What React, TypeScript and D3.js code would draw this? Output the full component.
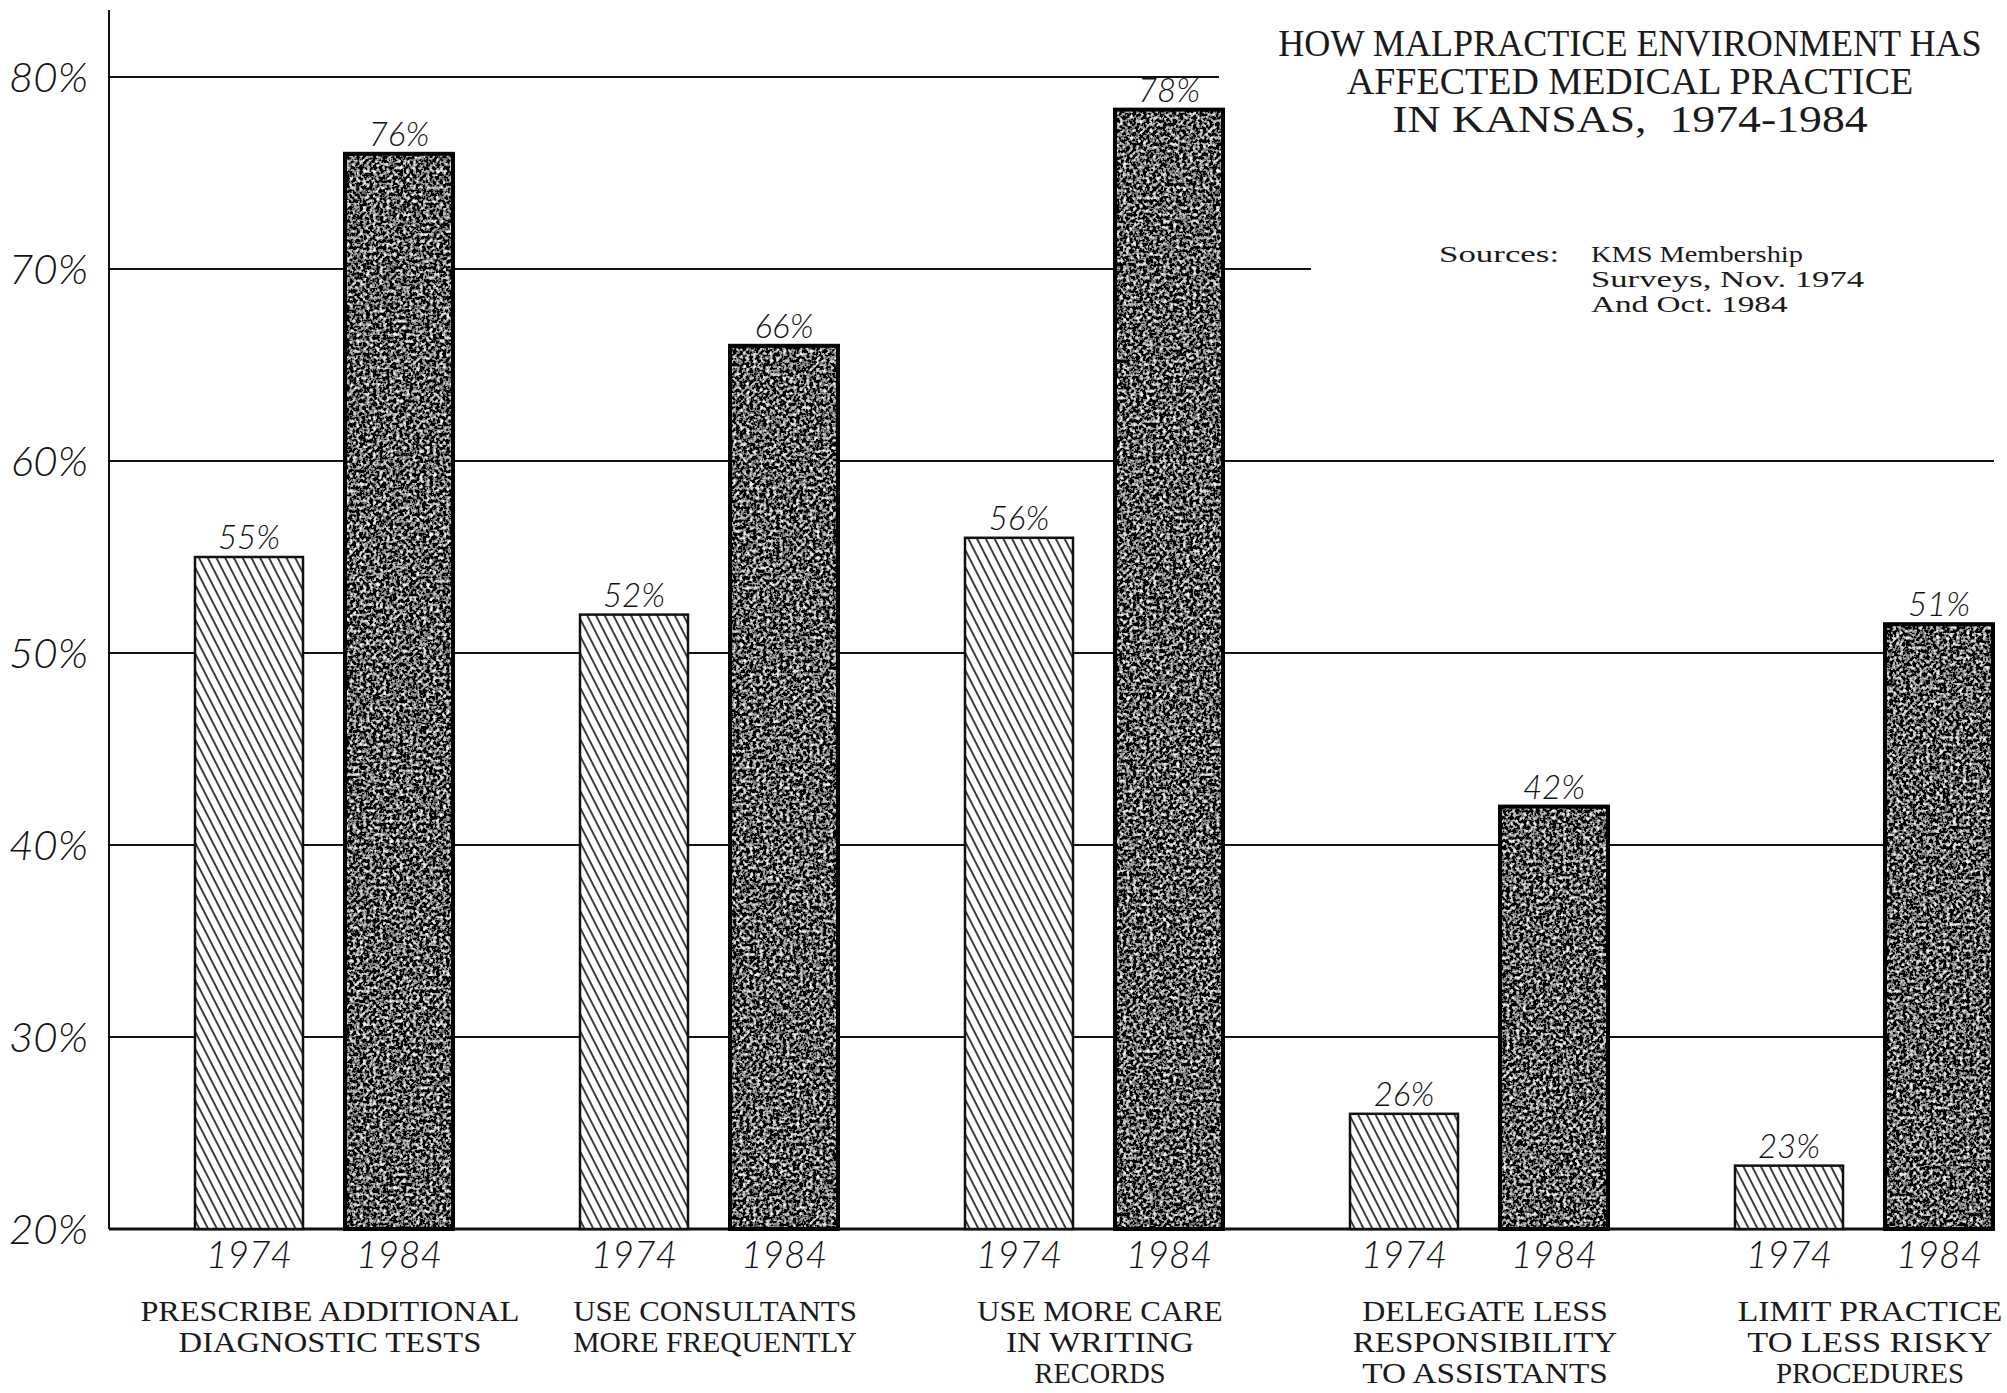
import React from "react";
import * as d3 from "d3";

const categories = ["diag", "consult", "records", "delegate", "limit"];
const categoryLines = [
  ["PRESCRIBE ADDITIONAL", "DIAGNOSTIC TESTS"],
  ["USE CONSULTANTS", "MORE FREQUENTLY"],
  ["USE MORE CARE", "IN WRITING", "RECORDS"],
  ["DELEGATE LESS", "RESPONSIBILITY", "TO ASSISTANTS"],
  ["LIMIT PRACTICE", "TO LESS RISKY", "PROCEDURES"],
];
const years = ["1974", "1984"];
const values1974 = [55, 52, 56, 26, 23.3];
const values1984 = [76, 66, 78.3, 42, 51.5];
const labels1974 = ["55%", "52%", "56%", "26%", "23%"];
const labels1984 = ["76%", "66%", "78%", "42%", "51%"];
const yTicks = [20, 30, 40, 50, 60, 70, 80];
const titleLines = [
  "HOW MALPRACTICE ENVIRONMENT HAS",
  "AFFECTED MEDICAL PRACTICE",
  "IN KANSAS,  1974-1984",
];
const sourceLines = ["KMS Membership", "Surveys, Nov. 1974", "And Oct. 1984"];

const W = 2007;
const H = 1393;
const hand = "Lato, 'Open Sans', 'DejaVu Sans', sans-serif";
const typeFont = "'Liberation Serif', 'DejaVu Serif', serif";

// fixed-pitch "typewriter" text: width set from the character count
function TypeText(props: {
  x: number;
  y: number;
  text: string;
  cw: number;
  size: number;
  anchor?: "start" | "middle";
}) {
  const { x, y, text, cw, size, anchor = "middle" } = props;
  const n = Array.from(text).length;
  return (
    <text
      x={x}
      y={y}
      textAnchor={anchor}
      textLength={n * cw - cw * 0.15}
      lengthAdjust="spacingAndGlyphs"
      fontFamily={typeFont}
      fontSize={size}
      fill="#1a1a1a"
      style={{ whiteSpace: "pre" }}
    >
      {text}
    </text>
  );
}

export default function App() {
  const y = d3.scaleLinear().domain([20, 80]).range([1229, 77]);
  const x = d3.scalePoint<string>().domain(categories).range([324, 1864]);
  const xs = d3.scaleBand<string>().domain(years).range([-129, 129]).paddingInner(0.28);
  const axisX = 109;
  const gridEnd = (t: number) => (t === 80 ? 1219 : t === 70 ? 1311 : 1994);

  const series = [
    { year: "1974", vals: values1974, labels: labels1974 },
    { year: "1984", vals: values1984, labels: labels1984 },
  ];

  return (
    <svg
      width={W}
      height={H}
      viewBox={`0 0 ${W} ${H}`}
      style={{ position: "absolute", left: 0, top: 0, background: "#fff" }}
    >
      <defs>
        <pattern
          id="hatch"
          patternUnits="userSpaceOnUse"
          width={7.8}
          height={40}
          patternTransform="rotate(-27)"
        >
          <rect width={7.8} height={40} fill="#fff" />
          <line x1={2} y1={-5} x2={2} y2={45} stroke="#111" strokeWidth={1.6} />
        </pattern>
        <filter id="noise" x="0" y="0" width="1" height="1" filterUnits="objectBoundingBox">
          <feTurbulence type="fractalNoise" baseFrequency="0.3" numOctaves={2} seed={7} result="t" />
          <feColorMatrix
            in="t"
            type="matrix"
            values="0.33 0.33 0.33 0 0  0.33 0.33 0.33 0 0  0.33 0.33 0.33 0 0  0 0 0 0 1"
          />
          <feComponentTransfer>
            <feFuncR type="linear" slope="5" intercept="-2.35" />
            <feFuncG type="linear" slope="5" intercept="-2.35" />
            <feFuncB type="linear" slope="5" intercept="-2.35" />
          </feComponentTransfer>
          <feComposite in2="SourceGraphic" operator="in" />
        </filter>
      </defs>

      {/* gridlines */}
      {yTicks.map((t) => (
        <line
          key={t}
          x1={axisX}
          x2={gridEnd(t)}
          y1={y(t)}
          y2={y(t)}
          stroke="#111"
          strokeWidth={t === 20 ? 3 : 2}
        />
      ))}
      {/* y axis */}
      <line x1={axisX} x2={axisX} y1={10} y2={y(20)} stroke="#111" strokeWidth={2} />

      {/* y tick labels */}
      {yTicks.map((t) => (
        <text
          key={t}
          x={88}
          y={y(t) + 15}
          textAnchor="end"
          fontFamily={hand}
          fontStyle="italic"
          fontWeight={300}
          fontSize={42}
          fill="#111"
        >
          {t}%
        </text>
      ))}

      {/* bars */}
      {categories.map((c, i) => (
        <g key={c}>
          {series.map((s) => {
            const bx = (x(c) as number) + (xs(s.year) as number);
            const bw = xs.bandwidth();
            const top = y(s.vals[i]);
            const h = y(20) - top;
            const is84 = s.year === "1984";
            return (
              <g key={s.year}>
                {is84 ? (
                  <>
                    <rect x={bx} y={top} width={bw} height={h} fill="#333" />
                    <rect x={bx} y={top} width={bw} height={h} fill="#000" filter="url(#noise)" />
                    <rect x={bx} y={top} width={bw} height={h} fill="none" stroke="#000" strokeWidth={4} />
                  </>
                ) : (
                  <rect
                    x={bx}
                    y={top}
                    width={bw}
                    height={h}
                    fill="url(#hatch)"
                    stroke="#111"
                    strokeWidth={2.5}
                  />
                )}
                <text
                  x={bx + bw / 2}
                  y={top - 8}
                  textAnchor="middle"
                  fontFamily={hand}
                  fontStyle="italic"
                  fontWeight={300}
                  fontSize={33}
                  fill="#111"
                >
                  {s.labels[i]}
                </text>
                <text
                  x={bx + bw / 2}
                  y={1268}
                  textAnchor="middle"
                  fontFamily={hand}
                  fontStyle="italic"
                  fontWeight={300}
                  fontSize={37}
                  fill="#111"
                >
                  {s.year}
                </text>
              </g>
            );
          })}
          {categoryLines[i].map((ln, j) => (
            <TypeText
              key={j}
              x={(x(c) as number) + 6}
              y={1321 + j * 31}
              text={ln}
              cw={19.1}
              size={30}
            />
          ))}
        </g>
      ))}

      {/* title */}
      {titleLines.map((ln, j) => (
        <TypeText key={j} x={1630} y={56 + j * 38} text={ln} cw={22.8} size={37} />
      ))}

      {/* sources */}
      <TypeText x={1439} y={262} text="Sources:" cw={15.3} size={24} anchor="start" />
      {sourceLines.map((ln, j) => (
        <TypeText key={j} x={1591} y={262 + j * 25} text={ln} cw={15.3} size={24} anchor="start" />
      ))}
    </svg>
  );
}
